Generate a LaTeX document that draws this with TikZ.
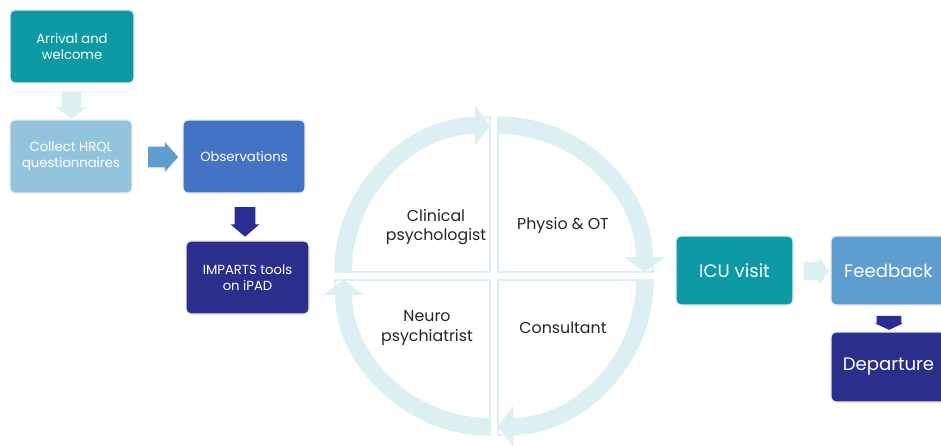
\documentclass[tikz,border=0pt]{standalone}
\usepackage{fontspec}
\setmainfont{Poppins}
\usetikzlibrary{shapes.arrows,arrows.meta}
\definecolor{tealbox}{RGB}{14,154,164}
\definecolor{paleblue}{RGB}{146,196,221}
\definecolor{midblue}{RGB}{94,157,207}
\definecolor{royalblue}{RGB}{68,114,196}
\definecolor{indigobox}{RGB}{44,46,140}
\definecolor{indigoarrow}{RGB}{44,44,150}
\definecolor{ringcyan}{RGB}{220,240,243}
\definecolor{quadline}{RGB}{206,229,234}
\tikzset{
	stepbox/.style={rounded corners=0.1cm, draw=black!8, line width=0.6pt, text=white, align=center, inner sep=0pt, font=\fontsize{7.5}{9}\selectfont},
	bigstep/.style={stepbox, font=\fontsize{10.3}{12}\selectfont},
	blockarrow/.style={single arrow, draw=none, single arrow head indent=0pt},
	quadrant/.style={fill=white, draw=quadline, line width=0.6pt},
	ringarrow/.style={draw=ringcyan, line width=0.34cm, -{Triangle[width=0.8cm,length=0.3cm]}},
	rolelabel/.style={align=center, text=black!85, font=\fontsize{9}{11}\selectfont}
}
\begin{document}
\begin{tikzpicture}
	\useasboundingbox (0,0) rectangle (18.82,-8.92);
	\clip (0,0) rectangle (18.82,-8.92);
	% left column
	\node[stepbox, fill=tealbox, minimum width=2.48cm, minimum height=1.46cm] (arrival) at (1.44,-0.93) {Arrival and\\welcome};
	\node[stepbox, fill=paleblue, minimum width=2.44cm, minimum height=1.46cm] (collect) at (1.42,-3.13) {Collect HRQL\\questionnaires};
	\node[stepbox, fill=royalblue, minimum width=2.44cm, minimum height=1.46cm] (observe) at (4.88,-3.13) {Observations};
	\node[stepbox, fill=indigobox, minimum width=2.46cm, minimum height=1.46cm] (imparts) at (4.95,-5.55) {IMPARTS tools\\on iPAD};
	\node[blockarrow, fill=ringcyan, shape border rotate=270, inner sep=0.19cm, minimum height=0.38cm, single arrow head extend=0.11cm, single arrow tip angle=105] (arr1) at (1.43,-2.03) {};
	\node[blockarrow, fill=midblue, inner sep=0.20cm, minimum height=0.52cm, single arrow head extend=0.09cm, single arrow tip angle=96] (arr2) at (3.17,-3.14) {};
	\node[blockarrow, fill=indigoarrow, shape border rotate=270, inner sep=0.20cm, minimum height=0.50cm, single arrow head extend=0.08cm, single arrow tip angle=99] (arr3) at (4.90,-4.35) {};
	% circle of quadrants
	\coordinate (ctl) at (9.80,-5.44);
	\coordinate (ctr) at (9.96,-5.44);
	\coordinate (cbr) at (9.96,-5.60);
	\coordinate (cbl) at (9.80,-5.60);
	\draw[quadrant] (ctl) -- ++(180:3.10) arc[start angle=180, end angle=90, radius=3.10] -- cycle;
	\draw[quadrant] (ctr) -- ++(90:3.10) arc[start angle=90, end angle=0, radius=3.10] -- cycle;
	\draw[quadrant] (cbr) -- ++(0:3.10) arc[start angle=0, end angle=-90, radius=3.10] -- cycle;
	\draw[quadrant] (cbl) -- ++(270:3.10) arc[start angle=270, end angle=180, radius=3.10] -- cycle;
	\draw[ringarrow] ([shift={(180:2.93)}]ctl) arc[start angle=180, end angle=90, radius=2.93];
	\draw[ringarrow] ([shift={(90:2.93)}]ctr) arc[start angle=90, end angle=0, radius=2.93];
	\draw[ringarrow] ([shift={(0:2.93)}]cbr) arc[start angle=0, end angle=-90, radius=2.93];
	\draw[ringarrow] ([shift={(270:2.93)}]cbl) arc[start angle=270, end angle=180, radius=2.93];
	\node[rolelabel] (clinpsy) at (8.72,-4.54) {Clinical\\psychologist};
	\node[rolelabel] (physio) at (11.26,-4.52) {Physio \& OT};
	\node[rolelabel] (neuro) at (8.54,-6.56) {Neuro\\psychiatrist};
	\node[rolelabel] (consult) at (11.26,-6.56) {Consultant};
	% right side
	\node[bigstep, fill=tealbox, minimum width=2.34cm, minimum height=1.38cm] (icu) at (14.69,-5.41) {ICU visit};
	\node[bigstep, fill=midblue, minimum width=2.30cm, minimum height=1.38cm] (feedback) at (17.77,-5.41) {Feedback};
	\node[bigstep, fill=indigobox, minimum width=2.30cm, minimum height=1.40cm] (depart) at (17.77,-7.34) {Departure};
	\node[blockarrow, fill=ringcyan, inner sep=0.18cm, minimum height=0.40cm, single arrow head extend=0.10cm, single arrow tip angle=109] (arr4) at (16.26,-5.42) {};
	\node[blockarrow, fill=indigoarrow, shape border rotate=270, inner xsep=0.24cm, inner ysep=0pt, minimum height=0.28cm, single arrow head extend=0.03cm, single arrow tip angle=130] (arr5) at (17.78,-6.40) {};
\end{tikzpicture}
\end{document}
